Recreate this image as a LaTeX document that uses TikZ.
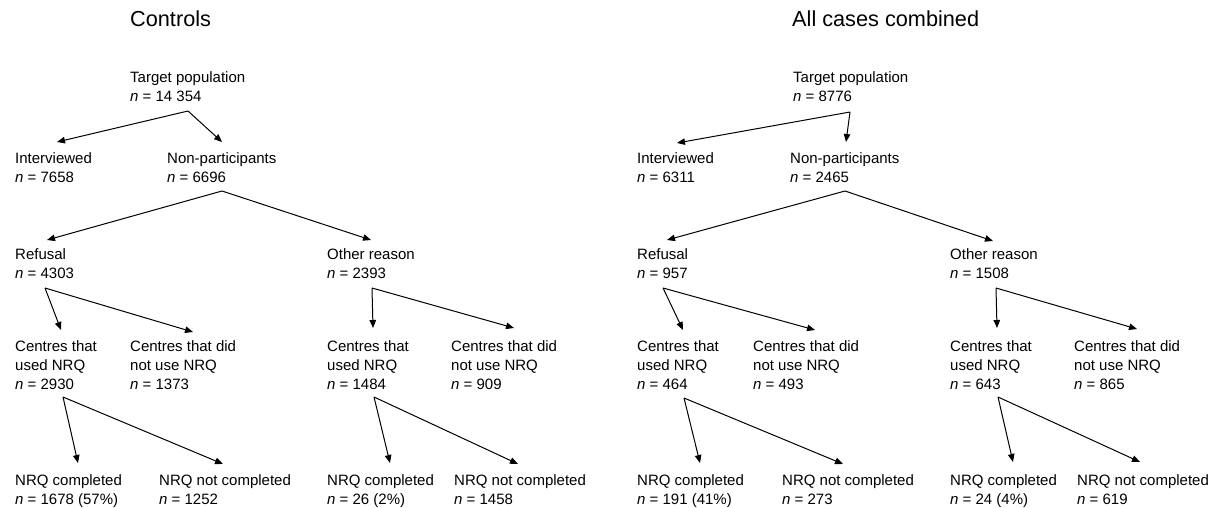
\documentclass[tikz,border=0pt]{standalone}
\usepackage{fontspec}
\setmainfont{Liberation Sans}
\usetikzlibrary{arrows.meta}
\tikzset{
  lbl/.style={anchor=base west, inner sep=0pt, align=left, font={\fontsize{15pt}{19pt}\selectfont}},
  ttl/.style={anchor=base west, inner sep=0pt, font={\fontsize{21.7pt}{25pt}\selectfont}},
  arr/.style={line width=1pt, -{Triangle[length=8pt,width=6.5pt]}},
}
\newcommand{\nn}{\textit{n} = }
\begin{document}
\begin{tikzpicture}[x={(1pt,0)}, y={(0,-1pt)}]
\useasboundingbox (0,0) rectangle (1215,508);
% (node anchors are at the baseline of the LAST line of each label)
% ---------- Controls ----------
\node[ttl] (t1) at (130,27) {Controls};
\node[lbl] (tp1) at (130,102) {Target population\\\nn14 354};
\node[lbl] (iv1) at (15,182) {Interviewed\\\nn7658};
\node[lbl] (np1) at (167,182) {Non-participants\\\nn6696};
\node[lbl] (rf1) at (15,278) {Refusal\\\nn4303};
\node[lbl] (or1) at (327,278) {Other reason\\\nn2393};
\node[lbl] (cu1) at (15,389) {Centres that\\used NRQ\\\nn2930};
\node[lbl] (cn1) at (130,389) {Centres that did\\not use NRQ\\\nn1373};
\node[lbl] (cu2) at (327,389) {Centres that\\used NRQ\\\nn1484};
\node[lbl] (cn2) at (451,389) {Centres that did\\not use NRQ\\\nn909};
\node[lbl] (nc1) at (15,504) {NRQ completed\\\nn1678 (57\%)};
\node[lbl] (nn1) at (159,504) {NRQ not completed\\\nn1252};
\node[lbl] (nc2) at (327,504) {NRQ completed\\\nn26 (2\%)};
\node[lbl] (nn2) at (454,504) {NRQ not completed\\\nn1458};
% ---------- All cases ----------
\node[ttl] (t2) at (792,27) {All cases combined};
\node[lbl] (tp2) at (793,102) {Target population\\\nn8776};
\node[lbl] (iv2) at (637,182) {Interviewed\\\nn6311};
\node[lbl] (np2) at (790,182) {Non-participants\\\nn2465};
\node[lbl] (rf2) at (637,278) {Refusal\\\nn957};
\node[lbl] (or2) at (950,278) {Other reason\\\nn1508};
\node[lbl] (cu3) at (637,389) {Centres that\\used NRQ\\\nn464};
\node[lbl] (cn3) at (753,389) {Centres that did\\not use NRQ\\\nn493};
\node[lbl] (cu4) at (950,389) {Centres that\\used NRQ\\\nn643};
\node[lbl] (cn4) at (1074,389) {Centres that did\\not use NRQ\\\nn865};
\node[lbl] (nc3) at (637,504) {NRQ completed\\\nn191 (41\%)};
\node[lbl] (nn3) at (782,504) {NRQ not completed\\\nn273};
\node[lbl] (nc4) at (950,504) {NRQ completed\\\nn24 (4\%)};
\node[lbl] (nn4) at (1077,504) {NRQ not completed\\\nn619};
% ---------- fork points ----------
\coordinate (f1) at ([shift={(58,9)}]tp1.base west);
\coordinate (f2) at ([shift={(55,9)}]np1.base west);
\coordinate (f3) at ([shift={(30,10)}]rf1.base west);
\coordinate (f4) at ([shift={(45,10)}]or1.base west);
\coordinate (f5) at ([shift={(48,8)}]cu1.base west);
\coordinate (f6) at ([shift={(47,8)}]cu2.base west);
\coordinate (f7) at ([shift={(57,10)}]tp2.base west);
\coordinate (f8) at ([shift={(55,9)}]np2.base west);
\coordinate (f9) at ([shift={(26,10)}]rf2.base west);
\coordinate (f10) at ([shift={(46,10)}]or2.base west);
\coordinate (f11) at ([shift={(47,9)}]cu3.base west);
\coordinate (f12) at ([shift={(48,8)}]cu4.base west);
% ---------- arrows ----------
\draw[arr] (f1) -- ([shift={(42,-40)}]iv1.base west);
\draw[arr] (f1) -- ([shift={(55,-40)}]np1.base west);
\draw[arr] (f2) -- ([shift={(32,-38)}]rf1.base west);
\draw[arr] (f2) -- ([shift={(44,-38)}]or1.base west);
\draw[arr] (f3) -- ([shift={(46,-59)}]cu1.base west);
\draw[arr] (f3) -- ([shift={(63,-57)}]cn1.base west);
\draw[arr] (f4) -- ([shift={(46,-61)}]cu2.base west);
\draw[arr] (f4) -- ([shift={(63,-61)}]cn2.base west);
\draw[arr] (f5) -- ([shift={(63,-41)}]nc1.base west);
\draw[arr] (f5) -- ([shift={(64,-40)}]nn1.base west);
\draw[arr] (f6) -- ([shift={(63,-41)}]nc2.base west);
\draw[arr] (f6) -- ([shift={(64,-40)}]nn2.base west);
\draw[arr] (f7) -- ([shift={(40,-39)}]iv2.base west);
\draw[arr] (f7) -- ([shift={(56,-40)}]np2.base west);
\draw[arr] (f8) -- ([shift={(30,-38)}]rf2.base west);
\draw[arr] (f8) -- ([shift={(43,-37)}]or2.base west);
\draw[arr] (f9) -- ([shift={(46,-59)}]cu3.base west);
\draw[arr] (f9) -- ([shift={(62,-59)}]cn3.base west);
\draw[arr] (f10) -- ([shift={(47,-61)}]cu4.base west);
\draw[arr] (f10) -- ([shift={(63,-60)}]cn4.base west);
\draw[arr] (f11) -- ([shift={(63,-41)}]nc3.base west);
\draw[arr] (f11) -- ([shift={(61,-40)}]nn3.base west);
\draw[arr] (f12) -- ([shift={(63,-42)}]nc4.base west);
\draw[arr] (f12) -- ([shift={(63,-42)}]nn4.base west);
\end{tikzpicture}
\end{document}
